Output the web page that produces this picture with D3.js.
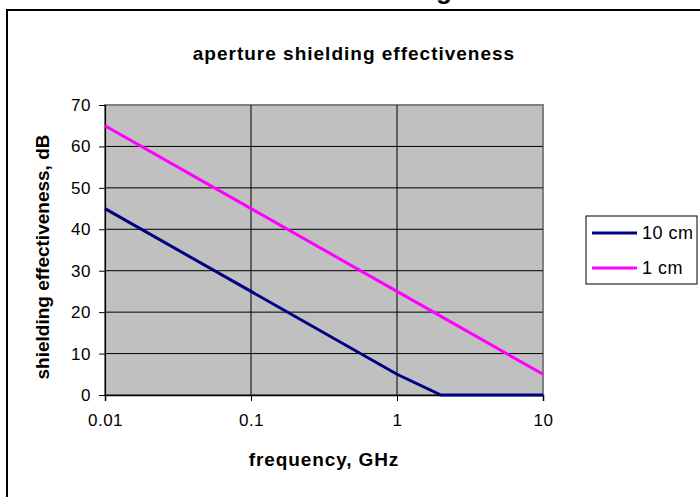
<!DOCTYPE html>
<html>
<head>
<meta charset="utf-8">
<script src="https://cdn.jsdelivr.net/npm/d3@7"></script>
<style>
  body { margin: 0; background: #fff; }
  svg { display: block; font-family: Arial, "Liberation Sans", sans-serif; }
</style>
</head>
<body>
<div id="chart"></div>
<script>
// data
const freqs10 = [0.01, 0.1, 1, 2, 10];
const se10 = [45, 25, 5, 0, 0];
const freqs1 = [0.01, 0.1, 1, 10];
const se1 = [65, 45, 25, 5];
const seriesNames = ["10 cm", "1 cm"];
const seriesColors = ["#000080", "#ff00ff"];
const xTicks = [0.01, 0.1, 1, 10];
const yTicks = [0, 10, 20, 30, 40, 50, 60, 70];

function drawChart() {
    const width = 700, height = 497;
    const plot = { left: 105, top: 105, right: 543, bottom: 395 };

    d3.select("#chart").selectAll("*").remove();
    const svg = d3.select("#chart").append("svg")
        .attr("width", width)
        .attr("height", height);

    // cropped page heading above the frame (only a descender shows)
    svg.append("text")
        .attr("x", 452).attr("y", -1)
        .attr("text-anchor", "end")
        .attr("font-size", "26px").attr("font-weight", "bold")
        .attr("fill", "#000")
        .text("Shielding");

    // chart frame
    svg.append("rect")
        .attr("x", 7).attr("y", 10)
        .attr("width", 700).attr("height", 500)
        .attr("fill", "none").attr("stroke", "#000").attr("stroke-width", 2);

    const x = d3.scaleLog().domain([0.01, 10]).range([plot.left, plot.right]);
    const y = d3.scaleLinear().domain([0, 70]).range([plot.bottom, plot.top]);

    // plot area
    svg.append("rect")
        .attr("x", plot.left).attr("y", plot.top)
        .attr("width", plot.right - plot.left).attr("height", plot.bottom - plot.top)
        .attr("fill", "#c0c0c0").attr("stroke", "#808080").attr("stroke-width", 2);

    // gridlines
    svg.append("g").selectAll("line")
        .data(yTicks.slice(1, -1))
        .enter().append("line")
        .attr("x1", plot.left).attr("x2", plot.right)
        .attr("y1", d => y(d)).attr("y2", d => y(d))
        .attr("stroke", "#000").attr("stroke-width", 1);
    svg.append("g").selectAll("line")
        .data(xTicks.slice(1, -1))
        .enter().append("line")
        .attr("x1", d => x(d)).attr("x2", d => x(d))
        .attr("y1", plot.top).attr("y2", plot.bottom)
        .attr("stroke", "#000").attr("stroke-width", 1);

    // axes
    const yAxis = svg.append("g")
        .attr("transform", `translate(${plot.left},0)`)
        .call(d3.axisLeft(y).tickValues(yTicks).tickSize(6).tickPadding(8));
    const xAxis = svg.append("g")
        .attr("transform", `translate(0,${plot.bottom})`)
        .call(d3.axisBottom(x).tickValues(xTicks).tickFormat(d => d3.format("~g")(d)).tickSize(6).tickPadding(13));
    [yAxis, xAxis].forEach(a => {
        a.select(".domain").attr("stroke", "#000").attr("stroke-width", 1.2);
        a.selectAll(".tick line").attr("stroke", "#000");
        a.selectAll(".tick text").attr("font-size", "17px").attr("fill", "#000")
            .attr("letter-spacing", "0.5px")
            .attr("font-family", "Arial, 'Liberation Sans', sans-serif");
    });
    xAxis.select(".domain").attr("stroke-width", 1.5);

    // series
    const line = d3.line().x(d => x(d[0])).y(d => y(d[1]));
    const series = [
        d3.zip(freqs10, se10),
        d3.zip(freqs1, se1)
    ];
    series.forEach((pts, i) => {
        svg.append("path")
            .datum(pts)
            .attr("d", line)
            .attr("fill", "none")
            .attr("stroke", seriesColors[i])
            .attr("stroke-width", 3);
    });

    // titles
    svg.append("text")
        .attr("x", 354).attr("y", 60)
        .attr("text-anchor", "middle")
        .attr("font-size", "19px").attr("font-weight", "bold")
        .attr("letter-spacing", "1px")
        .text("aperture shielding effectiveness");
    svg.append("text")
        .attr("x", 324).attr("y", 466)
        .attr("text-anchor", "middle")
        .attr("font-size", "19px").attr("font-weight", "bold")
        .attr("letter-spacing", "0.9px")
        .text("frequency, GHz");
    svg.append("text")
        .attr("transform", "translate(49,257) rotate(-90)")
        .attr("text-anchor", "middle")
        .attr("font-size", "19px").attr("font-weight", "bold")
        .text("shielding effectiveness, dB");

    // legend
    const legend = svg.append("g");
    legend.append("rect")
        .attr("x", 586).attr("y", 216)
        .attr("width", 111).attr("height", 68)
        .attr("fill", "#fff").attr("stroke", "#000").attr("stroke-width", 1);
    seriesNames.forEach((name, i) => {
        const ly = 233 + i * 35;
        legend.append("line")
            .attr("x1", 592).attr("x2", 637)
            .attr("y1", ly).attr("y2", ly)
            .attr("stroke", seriesColors[i]).attr("stroke-width", 3);
        legend.append("text")
            .attr("x", 642).attr("y", ly + 6)
            .attr("font-size", "18px")
            .attr("letter-spacing", "0.5px")
            .text(name);
    });
}

window.addEventListener('load', drawChart);
</script>
</body>
</html>
